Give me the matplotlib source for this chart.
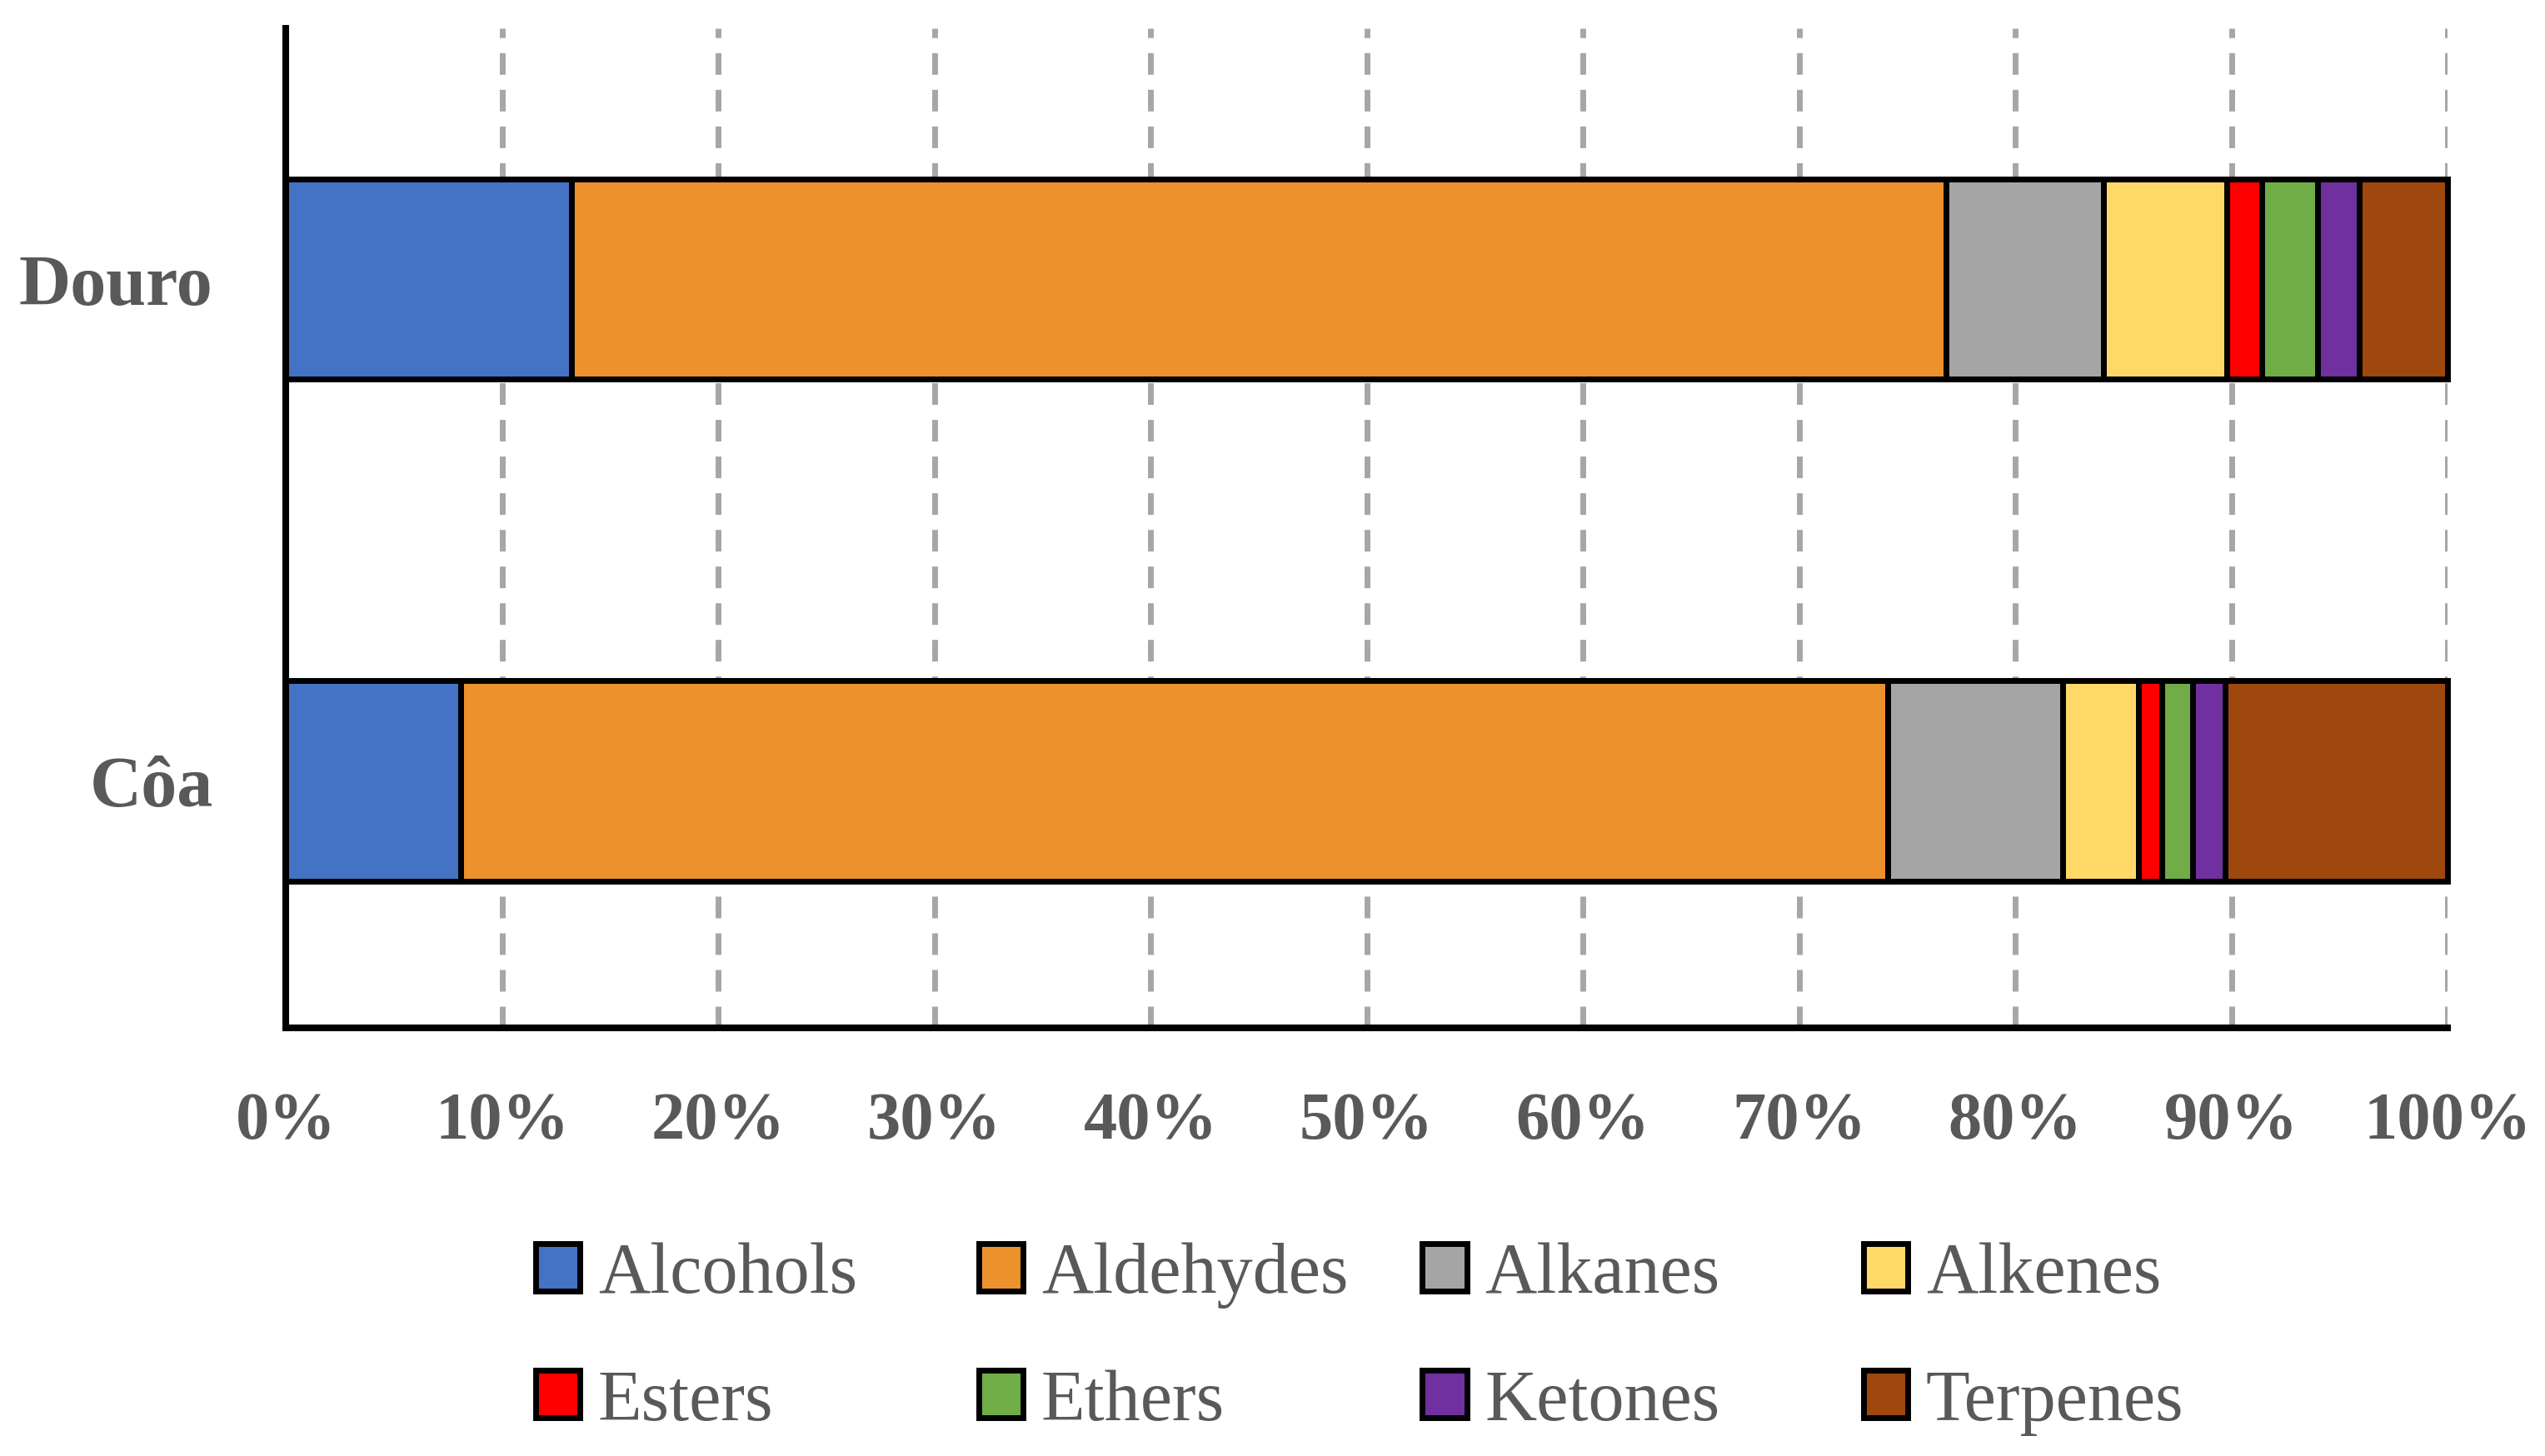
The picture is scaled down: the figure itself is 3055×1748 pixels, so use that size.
import matplotlib
matplotlib.use("Agg")
import matplotlib.pyplot as plt

regions = ["Douro", "Côa"]
compounds = ["Alcohols", "Aldehydes", "Alkanes", "Alkenes",
             "Esters", "Ethers", "Ketones", "Terpenes"]
douro = [13.2, 63.6, 7.3, 5.7, 1.6, 2.6, 1.9, 4.1]
coa = [8.1, 66.0, 8.1, 3.5, 1.1, 1.4, 1.5, 10.3]
colors = ["#4472C4", "#ED912C", "#A5A5A5", "#FED967",
          "#FF0000", "#70AD47", "#7030A0", "#9E480E"]
xticks = [0, 10, 20, 30, 40, 50, 60, 70, 80, 90, 100]
xticklabels = ["0%", "10%", "20%", "30%", "40%", "50%",
               "60%", "70%", "80%", "90%", "100%"]

plt.rcParams['font.family'] = ['Liberation Serif', 'DejaVu Serif']
text_color = "#595959"

fig = plt.figure(figsize=(30.55, 17.49), dpi=100)
ax = fig.add_axes([0.1123, 0.2939, 0.9617 - 0.1123, 0.98 - 0.2939])

ypos = [1, 0]
data = [douro, coa]
handles = []
for j, comp in enumerate(compounds):
    vals = [d[j] for d in data]
    lefts = [sum(d[:j]) for d in data]
    h = ax.barh(ypos, vals, left=lefts, height=0.4, color=colors[j],
                edgecolor="black", linewidth=5, label=comp, zorder=3,
                clip_on=False)
    handles.append(h)

ax.set_xlim(0, 100)
ax.set_ylim(-0.493, 1.5)
ax.set_xticks(xticks)
ax.set_xticklabels(xticklabels, fontsize=58, fontweight="bold", color=text_color)
ax.set_yticks(ypos)
ax.set_yticklabels(regions, fontsize=62, fontweight="bold", color=text_color)
ax.tick_params(axis="x", length=0, pad=55)
ax.tick_params(axis="y", length=0, pad=63)

ax.xaxis.grid(True, color="#A6A6A6", linewidth=5, linestyle=(0, (3.74, 2.6)), zorder=0)
ax.set_axisbelow(True)
for s in ["top", "right"]:
    ax.spines[s].set_visible(False)
for s in ["left", "bottom"]:
    ax.spines[s].set_linewidth(5.8)
    ax.spines[s].set_color("black")
    ax.spines[s].set_zorder(4)

col_x = [0.2105, 0.3846, 0.5588, 0.7322]
for c in range(4):
    hs = [handles[c], handles[c + 4]]
    labs = [compounds[c], compounds[c + 4]]
    leg = fig.legend(hs, labs, loc="center left", bbox_to_anchor=(col_x[c], 0.0806),
                     frameon=False, fontsize=62, handlelength=0.62, handleheight=0.64,
                     handletextpad=0.25, labelspacing=0.85, borderpad=0, borderaxespad=0)
    for t in leg.get_texts():
        t.set_color(text_color)

fig.savefig("out.png", dpi=100)
